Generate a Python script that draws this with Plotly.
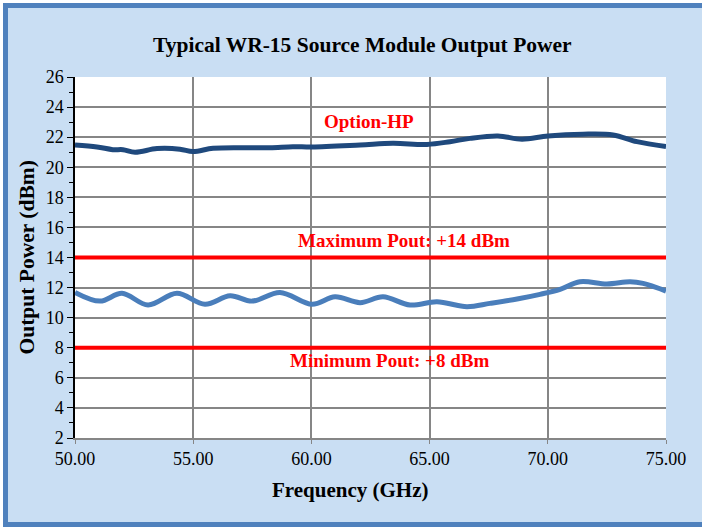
import plotly.graph_objects as go

# Data
freq_hp = [50.0, 50.93, 51.6, 52.03, 52.54, 53.47, 54.44, 54.99, 55.84, 57.1, 58.25, 59.22,
           60.03, 62.06, 63.45, 64.89, 65.86, 66.71, 67.89, 68.91, 70.01, 71.49, 72.76, 73.77, 75.0]
pout_hp = [21.48, 21.35, 21.17, 21.17, 21.0, 21.24, 21.2, 21.04, 21.26, 21.3, 21.3, 21.37,
           21.35, 21.48, 21.59, 21.52, 21.7, 21.92, 22.08, 21.86, 22.08, 22.2, 22.15, 21.7, 21.37]

freq_std = [50.0, 51.06, 51.99, 53.09, 54.31, 55.5, 56.56, 57.49, 58.67, 60.03, 61.0, 62.06,
            63.03, 64.17, 65.31, 66.58, 67.55, 68.7, 69.67, 70.52, 71.36, 72.5, 73.48, 74.03, 75.0]
pout_std = [11.68, 11.1, 11.62, 10.84, 11.62, 10.89, 11.46, 11.1, 11.68, 10.89, 11.39, 11.0,
            11.39, 10.84, 11.06, 10.73, 10.95, 11.24, 11.55, 11.88, 12.39, 12.24, 12.39, 12.28, 11.77]

limit_freq = [50, 75]
max_pout = [14, 14]
min_pout = [8, 8]

x_ticks = [50, 55, 60, 65, 70, 75]
x_tick_labels = ["50.00", "55.00", "60.00", "65.00", "70.00", "75.00"]
y_ticks = list(range(2, 27, 2))

FONT = "Liberation Serif, Times New Roman, serif"
RED = "#ff0000"

W, H = 702, 527
L, R, T, B = 75, 36, 77, 89
PW, PH = W - L - R, H - T - B


def px_x(px):
    return (px - L) / PW


def px_y(py):
    return (H - B - py) / PH


fig = go.Figure()
fig.add_trace(go.Scatter(x=limit_freq, y=max_pout, mode="lines",
                         line=dict(color=RED, width=4), hoverinfo="skip"))
fig.add_trace(go.Scatter(x=limit_freq, y=min_pout, mode="lines",
                         line=dict(color=RED, width=4), hoverinfo="skip"))
fig.add_trace(go.Scatter(x=freq_std, y=pout_std, mode="lines",
                         line=dict(color="#4a7ebb", width=5, shape="spline", smoothing=1.0)))
fig.add_trace(go.Scatter(x=freq_hp, y=pout_hp, mode="lines",
                         line=dict(color="#1f497d", width=5, shape="spline", smoothing=1.0)))

annot_font = dict(family=FONT, size=19, color=RED)
fig.add_annotation(x=62.44, y=23.07, text="<b>Option-HP</b>", showarrow=False, font=annot_font)
fig.add_annotation(x=63.92, y=15.16, text="<b>Maximum Pout: +14 dBm</b>", showarrow=False, font=annot_font)
fig.add_annotation(x=63.32, y=7.18, text="<b>Minimum Pout: +8 dBm</b>", showarrow=False, font=annot_font)

# Titles as paper annotations
fig.add_annotation(xref="paper", yref="paper", x=px_x(362), y=px_y(45),
                   text="<b>Typical WR-15 Source Module Output Power</b>", showarrow=False,
                   font=dict(family=FONT, size=21.5, color="black"), xanchor="center", yanchor="middle")
fig.add_annotation(xref="paper", yref="paper", x=px_x(350), y=px_y(490),
                   text="<b>Frequency (GHz)</b>", showarrow=False,
                   font=dict(family=FONT, size=21, color="black"), xanchor="center", yanchor="middle")
fig.add_annotation(xref="paper", yref="paper", x=px_x(26), y=0.5,
                   text="<b>Output Power (dBm)</b>", showarrow=False, textangle=-90,
                   font=dict(family=FONT, size=21.5, color="black"), xanchor="center", yanchor="middle")

# Outer frame
fig.add_shape(type="rect", xref="paper", yref="paper",
              x0=px_x(0), x1=px_x(W + 20), y0=px_y(H), y1=px_y(0),
              line=dict(color="white", width=6), layer="above")
fig.add_shape(type="rect", xref="paper", yref="paper",
              x0=px_x(5.5), x1=px_x(715), y0=px_y(524.5), y1=px_y(5.5),
              line=dict(color="#4f81bd", width=5), layer="above")

fig.update_layout(
    width=W, height=H,
    margin=dict(l=L, r=R, t=T, b=B),
    paper_bgcolor="#c9def3",
    plot_bgcolor="white",
    showlegend=False,
    font=dict(family=FONT, size=18, color="black"),
)
fig.update_xaxes(range=[50, 75], tickvals=x_ticks, ticktext=x_tick_labels,
                 showgrid=True, gridcolor="#868686", gridwidth=1.5,
                 showline=True, linecolor="#868686", linewidth=1.5,
                 ticks="outside", ticklen=4, tickcolor="#868686",
                 tickfont=dict(family=FONT, size=18), zeroline=False)
fig.update_yaxes(range=[2, 26], tickvals=y_ticks,
                 showgrid=True, gridcolor="#868686", gridwidth=1.5,
                 showline=True, linecolor="black", linewidth=1.5,
                 ticks="outside", ticklen=6, tickcolor="black",
                 minor=dict(dtick=1, ticks="outside", ticklen=4, tickcolor="black", showgrid=False),
                 tickfont=dict(family=FONT, size=18), zeroline=False)

fig.write_html("out.html", config={"displayModeBar": False},
               post_script="document.body.style.margin='0';document.body.style.overflow='hidden';")
